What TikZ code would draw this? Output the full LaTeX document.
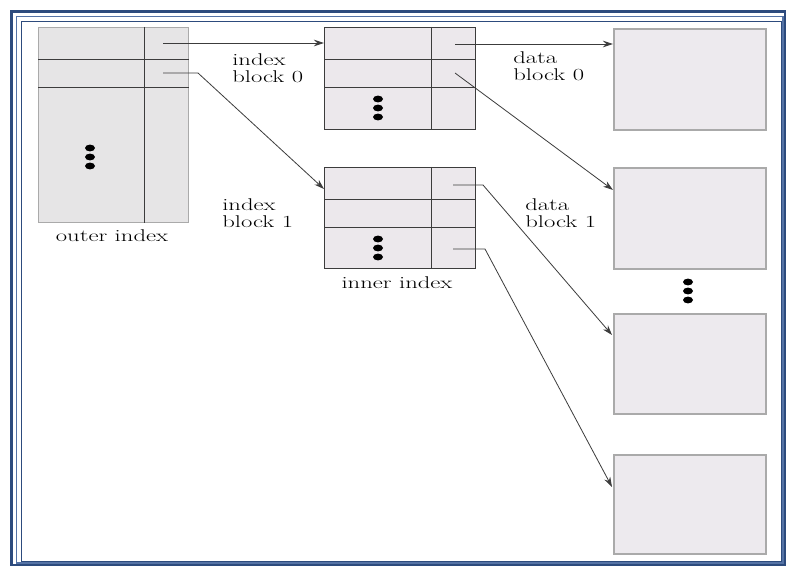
\documentclass[tikz,border=0pt]{standalone}
\usepackage{tikz}
\usetikzlibrary{arrows.meta,calc}

\definecolor{framedark}{RGB}{45,75,125}
\definecolor{framemid}{RGB}{85,115,165}
\definecolor{cellfill}{RGB}{236,232,236}
\definecolor{outerfill}{RGB}{230,229,230}
\definecolor{datafill}{RGB}{237,234,238}
\definecolor{boxgray}{RGB}{170,170,170}
\definecolor{linegray}{RGB}{60,60,60}

\tikzset{
  cell/.style={draw=linegray, line width=0.8pt},
  ptr/.style={draw=linegray, line width=0.8pt},
  ptrarrow/.style={ptr, -{Stealth[length=10pt,width=6.5pt]}},
  tblbox/.style={draw=linegray, fill=cellfill, line width=0.8pt, inner sep=0, anchor=north west},
  datbox/.style={draw=boxgray, fill=datafill, line width=1.8pt, minimum width=152pt, inner sep=0, anchor=north west},
  lbl/.style={font=\fontsize{17}{17}\selectfont, xscale=1.45, align=left, inner sep=0, text=black},
}

% drei Punkte uebereinander
\newcommand{\stackdots}[1]{%
  \foreach \dy in {-9,0,9} \fill[black] ($(#1)+(0,\dy)$) ellipse [x radius=5pt, y radius=3.4pt];}

\begin{document}
\begin{tikzpicture}[x=1pt,y=-1pt]

    \useasboundingbox (0,0) rectangle (787,569);
    \fill[white] (0,0) rectangle (787,569);

    % Rahmen
    \draw[framedark, line width=2.5pt] (11.5,11.5) rectangle (785,565);
    \draw[framemid, line width=1.2pt] (16.5,16.5) rectangle (783,563);
    \draw[framedark, line width=0.8pt] (21.5,21) rectangle (781,561);

    % outer index
    \node[tblbox, fill=outerfill, draw=boxgray, minimum width=150pt, minimum height=195pt] (ob) at (38,27) {};
    \draw[cell] ($(ob.north west)+(106,0)$) -- ($(ob.south west)+(106,0)$);
    \draw[cell] ($(ob.north west)+(0,32)$) -- ($(ob.north east)+(0,32)$);
    \draw[cell] ($(ob.north west)+(0,60)$) -- ($(ob.north east)+(0,60)$);
    \coordinate (obdots) at (90,157);
    \stackdots{obdots}
    \node[lbl, anchor=base] (oblbl) at (112,242) {outer index};

    % inner index: zwei Bloecke
    \node[tblbox, minimum width=151pt, minimum height=102pt] (ib0) at (324,27) {};
    \node[tblbox, minimum width=151pt, minimum height=101pt] (ib1) at (324,167) {};
    \foreach \t in {ib0,ib1} {
        \draw[cell] ($(\t.north west)+(107,0)$) -- ($(\t.south west)+(107,0)$);
        \draw[cell] ($(\t.north west)+(0,32)$) -- ($(\t.north east)+(0,32)$);
        \draw[cell] ($(\t.north west)+(0,60)$) -- ($(\t.north east)+(0,60)$);
    }
    \coordinate (ib0dots) at (378,108);
    \coordinate (ib1dots) at (378,248);
    \stackdots{ib0dots}
    \stackdots{ib1dots}
    \node[lbl, anchor=base] (iblbl) at (397,289) {inner index};
    \node[lbl, anchor=north west] (ib0lbl) at (232,54) {index\\block 0};
    \node[lbl, anchor=north west] (ib1lbl) at (222,199) {index\\block 1};

    % data blocks
    \node[datbox, minimum height=101pt] (db0) at (613,28) {};
    \node[datbox, minimum height=101pt] (db1) at (613,167) {};
    \node[datbox, minimum height=100pt] (db2) at (613,313) {};
    \node[datbox, minimum height=99pt] (db3) at (613,454) {};
    \coordinate (dbdots) at (688,291);
    \stackdots{dbdots}
    \node[lbl, anchor=north west] (db0lbl) at (513,52) {data\\block 0};
    \node[lbl, anchor=north west] (db1lbl) at (525,199) {data\\block 1};

    % Zeiger
    \coordinate (ob-p0) at ($(ob.north west)+(125,16)$);
    \coordinate (ob-p1) at ($(ob.north west)+(125,46)$);
    \coordinate (ib0-p0) at ($(ib0.north west)+(131,17)$);
    \coordinate (ib0-p1) at ($(ib0.north west)+(131,46)$);
    \coordinate (ib1-p0) at ($(ib1.north west)+(129,18)$);
    \coordinate (ib1-p2) at ($(ib1.north west)+(129,82)$);

    \draw[ptrarrow] (ob-p0) -- ($(ib0.north west)+(0,16)$);
    \draw[ptrarrow] (ob-p1) -- ++(35,0) -- ($(ib1.north west)+(0,22)$);
    \draw[ptrarrow] (ib0-p0) -- ($(db0.north west)+(0,16)$);
    \draw[ptrarrow] (ib0-p1) -- ($(db1.north west)+(0,23)$);
    \draw[ptrarrow] (ib1-p0) -- ++(30,0) -- ($(db2.north west)+(-1,22)$);
    \draw[ptrarrow] (ib1-p2) -- ++(32,0) -- ($(db3.north west)+(-1,33)$);

\end{tikzpicture}
\end{document}
